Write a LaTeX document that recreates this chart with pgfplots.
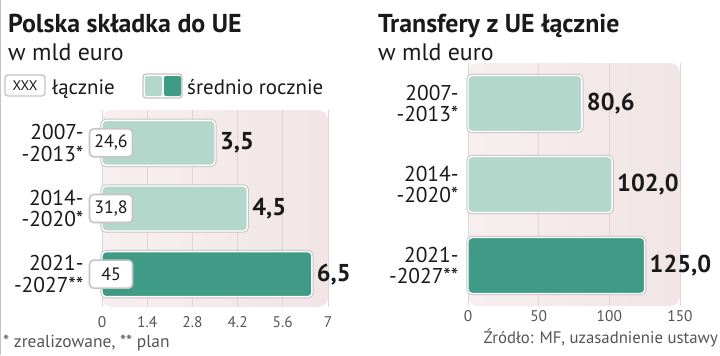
\documentclass[border=0pt]{standalone}
\usepackage{fontspec}
\setmainfont{PT Sans}
\usepackage{pgfplots}
\pgfplotsset{compat=1.18}
\definecolor{lightteal}{HTML}{B3D8CB}
\definecolor{darkteal}{HTML}{3F9A86}
\definecolor{pinkbg}{HTML}{F1E5E5}
\definecolor{pinkbgl}{HTML}{F7EFEF}
\definecolor{gridc}{HTML}{E2D4D4}
\definecolor{txt}{HTML}{1A1A1A}
\definecolor{ticktxt}{HTML}{555555}
\definecolor{edge}{HTML}{C9C4C4}
\tikzset{
  totbox/.style={draw=edge, line width=1.6pt, fill=white, rounded corners=4pt, minimum width=43bp, minimum height=28bp, inner sep=0pt, font=\fontsize{18}{18}\selectfont, text=txt},
}
\pgfplotsset{
  panel/.style={
    scale only axis, anchor=south west, y dir=reverse,
    ymin=-0.5, ymax=2.5, ytick={0,1,2},
    yticklabels={{2007-\\-2013*},{2014-\\-2020*},{2021-\\-2027**}},
    axis line style={draw=none}, major tick length=0pt,
    xmajorgrids, grid style={gridc, line width=0.8pt},
    axis background/.style={left color=pinkbgl, right color=pinkbg, draw=none, rounded corners=10pt},
    clip=false,
    /pgf/number format/assume math mode=true,
    yticklabel style={align=right, font=\fontsize{21.5}{21.5}\selectfont, text=txt},
    xticklabel style={font=\fontsize{15.5}{15.5}\selectfont, text=ticktxt},
  },
  shadowbar/.style={xbar, bar shift=0pt, draw=edge, line width=3.4pt, fill=none, rounded corners=4pt, forget plot},
  mainbar/.style={xbar, bar shift=0pt, draw=white, line width=1.4pt, rounded corners=4pt,
    point meta=x, nodes near coords={\pgfmathprintnumber[fixed,precision=1,fixed zerofill,use comma,assume math mode=true]{\pgfplotspointmeta}},
    nodes near coords align={horizontal},
    every node near coord/.append style={font=\bfseries\fontsize{24.5}{24.5}\selectfont, text=txt, xshift=1pt}},
}
\begin{document}
\begin{tikzpicture}[x=1bp,y=1bp]
\path[use as bounding box, fill=white] (0,0) rectangle (720,355);
\draw[edge, line width=1pt] (0.5,0) -- (0.5,355);
% titles
\node[anchor=base west, inner sep=0, font=\bfseries\fontsize{26}{26}\selectfont, text=txt] at (8,323) {Polska składka do UE};
\node[anchor=base west, inner sep=0, font=\fontsize{24}{24}\selectfont, text=txt] at (8,295) {w mld euro};
\node[anchor=base west, inner sep=0, font=\bfseries\fontsize{26}{26}\selectfont, text=txt] at (378,323) {Transfery z UE łącznie};
\node[anchor=base west, inner sep=0, font=\fontsize{24}{24}\selectfont, text=txt] at (378,295) {w mld euro};
% legend
\draw[edge, line width=1.4pt, fill=white, rounded corners=3pt] (5,259) rectangle (45,280);
\node[font=\fontsize{14}{14}\selectfont, text=txt] at (25,269.5) {XXX};
\node[anchor=base west, inner sep=0, font=\fontsize{21}{21}\selectfont, text=txt] at (52,261) {łącznie};
\draw[edge, line width=1.4pt, fill=white, rounded corners=3pt] (143,257) rectangle (182,281);
\fill[lightteal, rounded corners=2pt] (145,259) rectangle (162,279);
\fill[darkteal, rounded corners=2pt] (164,259) rectangle (181,279);
\node[anchor=base west, inner sep=0, font=\fontsize{21}{21}\selectfont, text=txt] at (187,261) {średnio rocznie};
% footer
\node[anchor=base west, inner sep=0, font=\fontsize{17.5}{17.5}\selectfont, text=ticktxt] at (3,8) {* zrealizowane, ** plan};
\node[anchor=base east, inner sep=0, font=\fontsize{16.8}{16.8}\selectfont, text=ticktxt] at (718,12) {Źródło: MF, uzasadnienie ustawy};

% left panel
\begin{axis}[panel, at={(102bp,48bp)}, width=226bp, height=197bp,
  xmin=0, xmax=7, xtick={0,1.4,2.8,4.2,5.6,7}, xticklabels={0,1.4,2.8,4.2,5.6,7},
  yticklabel style={xshift=-15bp}, xticklabel style={yshift=-6bp}]
\addplot[shadowbar, bar width=45bp] coordinates {(3.5,0) (4.5,1) (6.5,2)};
\addplot[mainbar, bar width=45bp, fill=lightteal] coordinates {(3.5,0)};
\addplot[mainbar, bar width=45bp, fill=lightteal] coordinates {(4.5,1)};
\addplot[mainbar, bar width=45bp, fill=darkteal] coordinates {(6.5,2)};
\node[totbox] at (axis cs:0.28,0) {24,6};
\node[totbox] at (axis cs:0.28,1) {31,8};
\node[totbox] at (axis cs:0.28,2) {45};
\end{axis}

% right panel
\begin{axis}[panel, at={(468bp,49bp)}, width=212bp, height=243bp,
  xmin=0, xmax=150, xtick={0,50,100,150}, xticklabels={0,50,100,150},
  yticklabel style={xshift=-6bp}, xticklabel style={yshift=-1bp}]
\addplot[shadowbar, bar width=56bp] coordinates {(80.6,0) (102.0,1) (125.0,2)};
\addplot[mainbar, bar width=56bp, fill=lightteal] coordinates {(80.6,0)};
\addplot[mainbar, bar width=56bp, fill=lightteal] coordinates {(102.0,1)};
\addplot[mainbar, bar width=56bp, fill=darkteal] coordinates {(125.0,2)};
\end{axis}
\end{tikzpicture}
\end{document}
